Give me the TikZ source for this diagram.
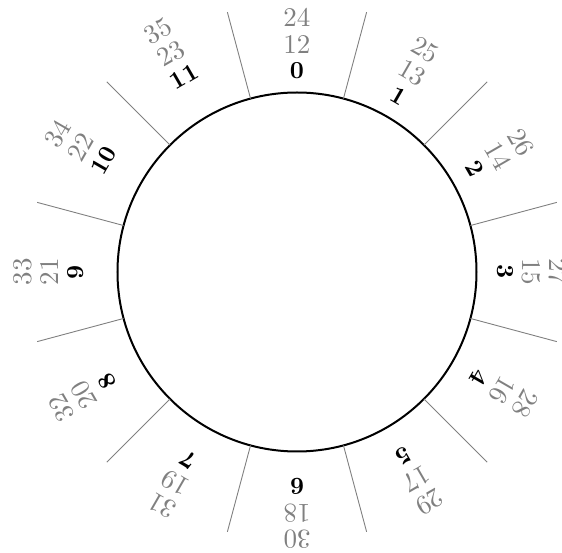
\documentclass[tikz,border=0pt]{standalone}
\begin{document}
\begin{tikzpicture}[x=1pt,y=1pt,
  spoke/.style={draw=black!50,line width=0.9pt},
  rim/.style={draw=black,line width=2pt},
  hourlbl/.style={text=black,inner sep=0pt},
  altlbl/.style={text=black!50,inner sep=0pt}]
\useasboundingbox (-297,272) rectangle (265,-281);
\coordinate (c) at (0,0);
\draw[rim] (c) circle[radius=179.5];
\foreach \k in {0,...,11}{
  \pgfmathsetmacro{\a}{75-30*\k}
  \coordinate (s\k) at (\a:179.5);
  \coordinate (e\k) at (\a:269);
  \draw[spoke] (s\k) -- (e\k);
  \pgfmathsetmacro{\b}{90-30*\k}
  \pgfmathtruncatemacro{\m}{\k+12}
  \pgfmathtruncatemacro{\n}{\k+24}
  \pgfmathsetmacro{\ra}{201.5+2.2*\k}
  \pgfmathsetmacro{\rb}{201.5+2.2*\m}
  \pgfmathsetmacro{\rc}{201.5+2.2*\n}
  \node[hourlbl,rotate=-30*\k] (h\k) at (\b:\ra) {\scalebox{2.45}{\bfseries\k}};
  \node[altlbl,rotate=-30*\k] (p\k) at (\b:\rb) {\scalebox{2.7}{\m}};
  \node[altlbl,rotate=-30*\k] (q\k) at (\b:\rc) {\scalebox{2.7}{\n}};
}
\end{tikzpicture}
\end{document}
